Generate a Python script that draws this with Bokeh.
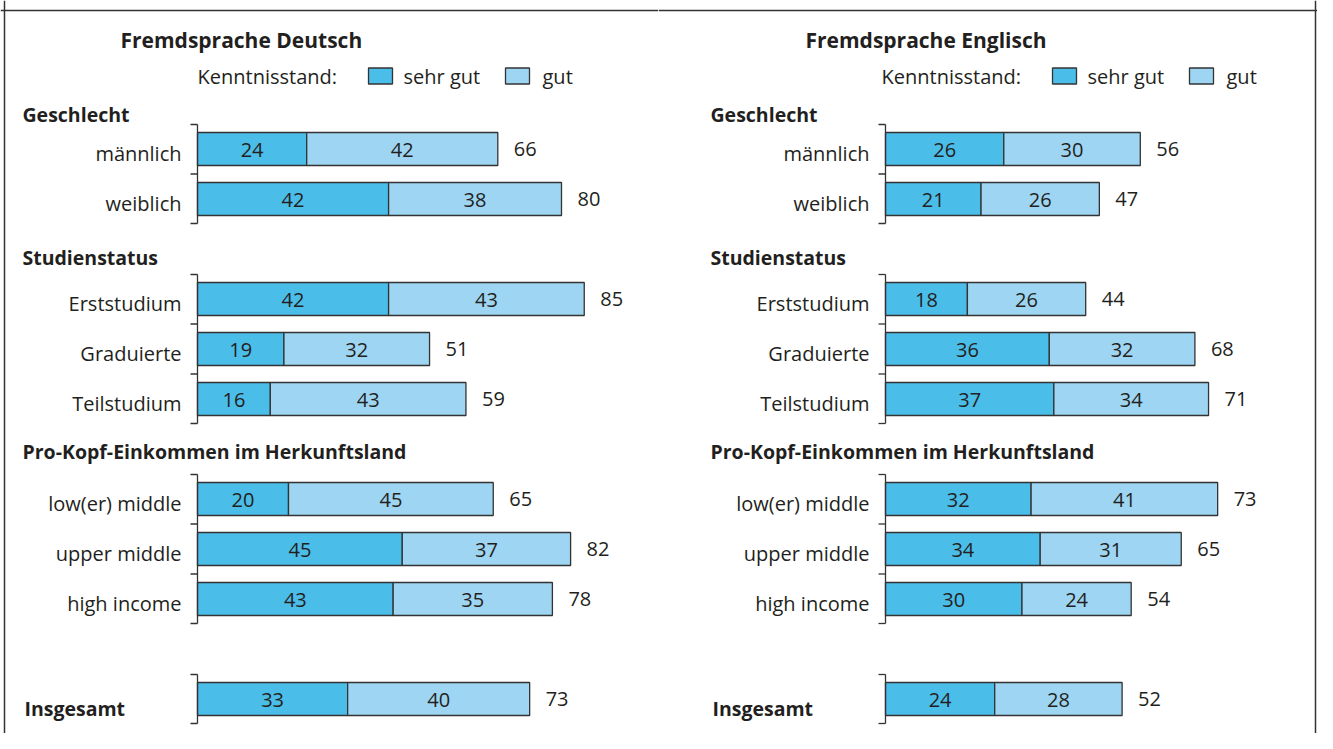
from bokeh.plotting import figure
from bokeh.models import Range1d, Span
from bokeh.layouts import row
from bokeh.embed import file_html
from bokeh.resources import INLINE
from bokeh.core.properties import value

# ---------------- data ----------------
panel_titles = ["Fremdsprache Deutsch", "Fremdsprache Englisch"]
legend_title = "Kenntnisstand:"
series_names = ["sehr gut", "gut"]
group_names = ["Geschlecht", "Studienstatus",
               "Pro-Kopf-Einkommen im Herkunftsland", "Insgesamt"]
group_categories = [["männlich", "weiblich"],
                    ["Erststudium", "Graduierte", "Teilstudium"],
                    ["low(er) middle", "upper middle", "high income"],
                    [""]]
deutsch_sehr_gut = [24, 42, 42, 19, 16, 20, 45, 43, 33]
deutsch_gut = [42, 38, 43, 32, 43, 45, 37, 35, 40]
deutsch_total = [66, 80, 85, 51, 59, 65, 82, 78, 73]
englisch_sehr_gut = [26, 21, 18, 36, 37, 32, 34, 30, 24]
englisch_gut = [30, 26, 26, 32, 34, 41, 31, 24, 28]
englisch_total = [56, 47, 44, 68, 71, 73, 65, 54, 52]

# ---------------- style ----------------
C_SEHR = "#4bbde9"
C_GUT = "#9dd5f2"
C_LINE = "#333333"
C_TEXT = "#231f20"
FONT = value("Open Sans")
FS = "20px"
SCALE = 4.55          # px per percentage point
ROW = 50.0            # px per row slot
H = 733
FIRST_ROW_Y = 148.5
Y_TOP = -FIRST_ROW_Y / ROW
header_dy = [-0.69, -0.83, -0.95, 0.19]

# slot positions for each row (one empty slot between groups)
slots, group_slots = [], []
s = 0
for cats in group_categories:
    gs = []
    for _ in cats:
        gs.append(s)
        slots.append(s)
        s += 1
    group_slots.append(gs)
    s += 1
labels = [c for cats in group_categories for c in cats]


def make_panel(title, sehr, gut, total, width, zero_px, title_rel, leg_shift, side):
    x0 = -zero_px / SCALE
    X = lambda px: x0 + px / SCALE
    Y = lambda px: Y_TOP + px / ROW
    d = lambda px: px / SCALE
    p = figure(width=width, height=H, output_backend="svg", toolbar_location=None,
               x_range=Range1d(x0, x0 + width / SCALE),
               y_range=Range1d(Y_TOP + H / ROW, Y_TOP),
               min_border=0, outline_line_color=None)
    p.axis.visible = False
    p.grid.visible = False
    p.background_fill_color = "white"
    p.border_fill_color = "white"

    # frame
    p.add_layout(Span(location=Y(10), dimension="width", line_color=C_LINE, line_width=1.5))
    if side == "left":
        p.add_layout(Span(location=X(4), dimension="height", line_color=C_LINE, line_width=1.5))
    else:
        p.add_layout(Span(location=X(width - 2), dimension="height", line_color=C_LINE, line_width=1.5))

    # bars
    bh = 33 / ROW
    p.hbar(y=slots, left=0, right=sehr, height=bh, fill_color=C_SEHR,
           line_color=C_LINE, line_width=1.3)
    p.hbar(y=slots, left=sehr, right=total, height=bh, fill_color=C_GUT,
           line_color=C_LINE, line_width=1.3)

    # value labels
    p.text(x=[v / 2 for v in sehr], y=slots, text=[str(v) for v in sehr],
           text_align="center", text_baseline="middle", text_font=FONT,
           text_font_size=FS, text_color=C_TEXT, y_offset=1)
    p.text(x=[a + b / 2 for a, b in zip(sehr, gut)], y=slots, text=[str(v) for v in gut],
           text_align="center", text_baseline="middle", text_font=FONT,
           text_font_size=FS, text_color=C_TEXT, y_offset=1)
    p.text(x=total, y=slots, text=[str(v) for v in total], x_offset=16,
           text_align="left", text_baseline="middle", text_font=FONT,
           text_font_size=FS, text_color=C_TEXT, y_offset=0)

    # category labels
    p.text(x=[0] * len(slots), y=slots, text=labels, x_offset=-16,
           text_align="right", text_baseline="middle", text_font=FONT,
           text_font_size=FS, text_color=C_TEXT, y_offset=4)

    # group brackets
    for gs in group_slots:
        top, bot = gs[0] - 0.49, gs[-1] + 0.49
        p.segment(x0=[0], y0=[top], x1=[0], y1=[bot], line_color=C_LINE, line_width=1.3)
        ticks = [top] + [(a + b) / 2 for a, b in zip(gs[:-1], gs[1:])] + [bot]
        p.segment(x0=[-d(7)] * len(ticks), y0=ticks, x1=[0] * len(ticks), y1=ticks,
                  line_color=C_LINE, line_width=1.3)

    # group headers
    hx = [X(zero_px - 175)] * len(group_names)
    hx[-1] = X(zero_px - 173)
    hy = [gs[0] + dy for gs, dy in zip(group_slots, header_dy)]
    p.text(x=hx, y=hy, text=group_names, text_align="left", text_baseline="middle",
           text_font=FONT, text_font_size="19.5px", text_font_style="bold",
           text_color=C_TEXT)

    # panel title
    p.text(x=[d(title_rel)], y=[Y(39)], text=[title], text_align="left",
           text_baseline="middle", text_font=FONT, text_font_size="21px",
           text_font_style="bold", text_color=C_TEXT)

    # legend
    ly = Y(76)
    p.text(x=[d(leg_shift)], y=[ly], text=[legend_title], text_align="left",
           text_baseline="middle", text_font=FONT, text_font_size=FS, text_color=C_TEXT)
    p.rect(x=[d(leg_shift + 183), d(leg_shift + 320)], y=[Y(75.5)] * 2,
           width=24, height=16, width_units="screen", height_units="screen",
           fill_color=[C_SEHR, C_GUT], line_color=C_LINE, line_width=1.3)
    p.text(x=[d(leg_shift + 206), d(leg_shift + 345)], y=[ly] * 2, text=series_names,
           text_align="left", text_baseline="middle", text_font=FONT,
           text_font_size=FS, text_color=C_TEXT)
    return p


p1 = make_panel(panel_titles[0], deutsch_sehr_gut, deutsch_gut, deutsch_total,
                658, 197, -77, 0, "left")
p2 = make_panel(panel_titles[1], englisch_sehr_gut, englisch_gut, englisch_total,
                659, 885 - 658, -80, -4, "right")

layout = row(p1, p2)
open("out.html", "w").write(file_html(layout, INLINE))
